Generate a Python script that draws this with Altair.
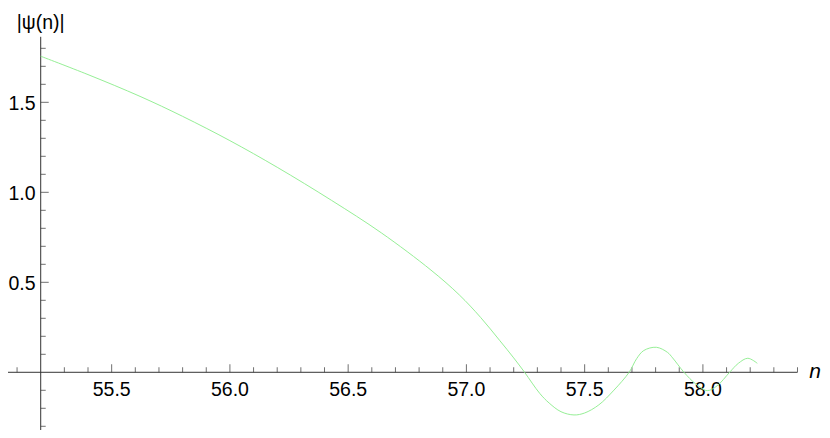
import altair as alt
import pandas as pd

# curve |psi(n)|
n_values = [55.20, 55.40, 55.62, 55.80, 56.00, 56.20, 56.43, 56.64, 56.85, 56.97,
            57.06, 57.14, 57.20, 57.246, 57.31, 57.35, 57.40, 57.455, 57.50, 57.56,
            57.624, 57.688, 57.72, 57.75, 57.803, 57.85, 57.872, 57.92, 57.97, 58.018,
            58.06, 58.113, 58.15, 58.19, 58.23]
psi_values = [1.756, 1.654, 1.533, 1.422, 1.287, 1.139, 0.955, 0.775, 0.568, 0.430,
              0.305, 0.178, 0.080, 0.0, -0.117, -0.171, -0.219, -0.237, -0.226, -0.181,
              -0.099, 0.0, 0.076, 0.121, 0.139, 0.111, 0.080, 0.0, -0.065, -0.102,
              -0.075, 0.0, 0.050, 0.078, 0.050]

x_major_ticks = [55.5, 56.0, 56.5, 57.0, 57.5, 58.0]
x_major_labels = ["55.5", "56.0", "56.5", "57.0", "57.5", "58.0"]
x_minor_ticks = [55.1, 55.3, 55.4, 55.6, 55.7, 55.8, 55.9, 56.1, 56.2, 56.3, 56.4,
                 56.6, 56.7, 56.8, 56.9, 57.1, 57.2, 57.3, 57.4, 57.6, 57.7, 57.8,
                 57.9, 58.1, 58.2, 58.3, 58.4]
y_major_ticks = [0.5, 1.0, 1.5]
y_major_labels = ["0.5", "1.0", "1.5"]
y_minor_ticks = [-0.3, -0.2, -0.1, 0.1, 0.2, 0.3, 0.4, 0.6, 0.7, 0.8, 0.9,
                 1.1, 1.2, 1.3, 1.4, 1.6, 1.7, 1.8]

x_domain = [55.0617, 58.5036]
y_domain = [-0.3206, 2.024]
axis_x_origin = 55.2
axis_x_end = 58.4
axis_y_top = 1.864
y_title_text = "|ψ(n)|"
y_title_pos = 1.91
x_title_text = "n"

FONT = "Liberation Sans"
AXIS_COLOR = "#333333"
LINE_COLOR = "#96ef96"

xs = alt.Scale(domain=x_domain, nice=False, zero=False)
ys = alt.Scale(domain=y_domain, nice=False, zero=False)


def X(field):
    return alt.X(field, type="quantitative", scale=xs, axis=None)


def Y(field):
    return alt.Y(field, type="quantitative", scale=ys, axis=None)


def XD(v):
    return alt.XDatum(v, type="quantitative", scale=xs, axis=None)


def YD(v):
    return alt.YDatum(v, type="quantitative", scale=ys, axis=None)


line_df = pd.DataFrame({"n": n_values, "psi": psi_values})
xmaj_df = pd.DataFrame({"v": x_major_ticks, "label": x_major_labels})
xmin_df = pd.DataFrame({"v": x_minor_ticks})
ymaj_df = pd.DataFrame({"v": y_major_ticks, "label": y_major_labels})
ymin_df = pd.DataFrame({"v": y_minor_ticks})
one = pd.DataFrame({"a": [0]})

x_axis_line = alt.Chart(one).mark_rule(color=AXIS_COLOR, strokeWidth=1).encode(
    x=XD(x_domain[0]), x2=alt.X2Datum(axis_x_end), y=YD(0))
y_axis_line = alt.Chart(one).mark_rule(color=AXIS_COLOR, strokeWidth=1).encode(
    x=XD(axis_x_origin), y=YD(y_domain[0]), y2=alt.Y2Datum(axis_y_top))

x_major = alt.Chart(xmaj_df).mark_tick(orient="vertical", size=8, thickness=1,
                                       color=AXIS_COLOR, yOffset=-4).encode(
    x=X("v"), y=YD(0))
x_minor = alt.Chart(xmin_df).mark_tick(orient="vertical", size=5, thickness=1,
                                       color=AXIS_COLOR, yOffset=-2.5).encode(
    x=X("v"), y=YD(0))
y_major = alt.Chart(ymaj_df).mark_tick(orient="horizontal", size=8, thickness=1,
                                       color=AXIS_COLOR, xOffset=4).encode(
    x=XD(axis_x_origin), y=Y("v"))
y_minor = alt.Chart(ymin_df).mark_tick(orient="horizontal", size=5, thickness=1,
                                       color=AXIS_COLOR, xOffset=2.5).encode(
    x=XD(axis_x_origin), y=Y("v"))

x_labels = alt.Chart(xmaj_df).mark_text(font=FONT, fontSize=19.5, color="#000000",
                                        align="center", baseline="alphabetic",
                                        dy=23.4).encode(
    x=X("v"), y=YD(0), text="label:N")
y_labels = alt.Chart(ymaj_df).mark_text(font=FONT, fontSize=19.5, color="#000000",
                                        align="right", baseline="alphabetic",
                                        dx=-5.2, dy=7.3).encode(
    x=XD(axis_x_origin), y=Y("v"), text="label:N")

y_title = alt.Chart(one).mark_text(font=FONT, fontSize=19.5, color="#000000",
                                   align="center", baseline="alphabetic",
                                   text=y_title_text).encode(
    x=XD(axis_x_origin), y=YD(y_title_pos))
x_title = alt.Chart(one).mark_text(font=FONT, fontSize=21, fontStyle="italic",
                                   color="#000000", align="right",
                                   baseline="alphabetic", dy=6, dx=-1,
                                   text=x_title_text).encode(
    x=XD(x_domain[1]), y=YD(0))

curve = alt.Chart(line_df).mark_line(color=LINE_COLOR, strokeWidth=1,
                                     interpolate="catmull-rom", clip=True).encode(
    x=X("n"), y=Y("psi"))

chart = alt.layer(x_axis_line, y_axis_line, x_major, x_minor, y_major, y_minor,
                  x_labels, y_labels, y_title, x_title, curve).properties(
    width=814, height=422,
    autosize=alt.AutoSizeParams(type="none"),
    padding=0,
    background="white",
).configure_view(stroke=None)

chart.save("out.html", embed_options={"renderer": "svg", "actions": False})
